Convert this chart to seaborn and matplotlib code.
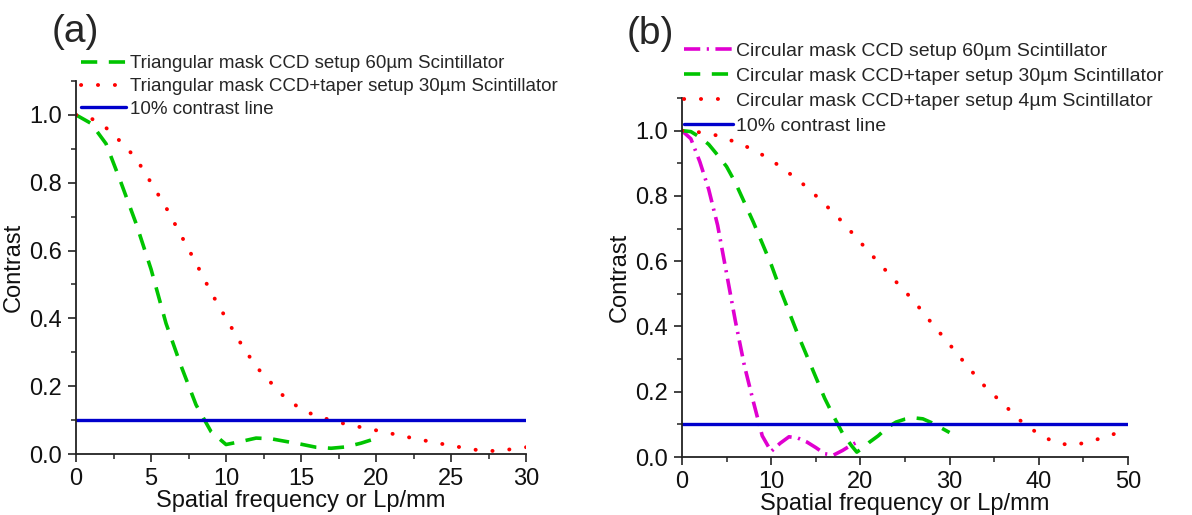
import numpy as np
import pandas as pd
import matplotlib
matplotlib.use("Agg")
import matplotlib.pyplot as plt
from matplotlib.ticker import MultipleLocator
import seaborn as sns

# ---- panel (a): triangular mask ----
tri_ccd_x = [0, 1, 2, 3, 4, 5, 6, 7, 8, 9, 10, 11, 12, 13, 14, 15, 16, 17, 18, 19, 20]
tri_ccd_y = [1.0, 0.975, 0.915, 0.80, 0.68, 0.545, 0.385, 0.26, 0.145, 0.066, 0.028,
             0.037, 0.047, 0.045, 0.037, 0.029, 0.020, 0.017, 0.021, 0.032, 0.046]
tri_taper_x = [0, 1, 2, 3, 4, 5, 6, 7, 8, 9, 10, 11, 12, 13, 14, 15, 16, 17, 18, 19, 20,
               22, 24, 26, 27, 28, 29, 30]
tri_taper_y = [1.0, 0.99, 0.962, 0.92, 0.872, 0.80, 0.727, 0.645, 0.563, 0.477, 0.40,
               0.325, 0.258, 0.21, 0.163, 0.133, 0.112, 0.10, 0.088, 0.079, 0.07,
               0.051, 0.033, 0.017, 0.010, 0.009, 0.014, 0.02]
line_a_x = [0, 30]

# ---- panel (b): circular mask ----
circ_ccd_x = [0, 1, 2, 3, 4, 5, 6, 7, 8, 9, 10, 11, 12, 13, 14, 15, 16, 17, 18, 19, 20]
circ_ccd_y = [1.0, 0.975, 0.905, 0.82, 0.71, 0.563, 0.415, 0.28, 0.17, 0.065, 0.017,
              0.042, 0.062, 0.058, 0.046, 0.029, 0.010, 0.006, 0.020, 0.037, 0.05]
circ_taper30_x = [0, 1, 2, 3, 4, 5, 6, 7, 8, 9, 10, 11, 12, 13, 14, 15, 16, 17, 18, 19,
                  19.6, 20.5, 21, 22, 23, 24, 25, 26, 27, 28, 29, 30]
circ_taper30_y = [1.0, 0.997, 0.98, 0.958, 0.925, 0.89, 0.84, 0.78, 0.72, 0.655, 0.59,
                  0.515, 0.445, 0.375, 0.31, 0.245, 0.18, 0.125, 0.073, 0.035,
                  0.015, 0.032, 0.045, 0.065, 0.09, 0.107, 0.116, 0.12, 0.117, 0.105,
                  0.09, 0.075]
circ_taper4_x = [0, 2, 4, 6, 8, 10, 12, 14, 16, 18, 20, 22, 24, 26, 28, 30, 32, 34, 36,
                 38, 40, 42, 44, 46, 48, 49]
circ_taper4_y = [1.0, 0.995, 0.985, 0.965, 0.942, 0.91, 0.87, 0.827, 0.775, 0.72, 0.658,
                 0.597, 0.537, 0.478, 0.41, 0.345, 0.278, 0.215, 0.163, 0.11, 0.07,
                 0.042, 0.036, 0.05, 0.065, 0.078]
line_b_x = [0, 50]
contrast_level = 0.1

GREEN = "#00c400"
RED = "#ff0000"
MAGENTA = "#e000d0"
BLUE = "#0000cc"

sns.set_style("ticks")
plt.rcParams["font.family"] = ["Liberation Sans", "DejaVu Sans"]

fig = plt.figure(figsize=(11.92, 5.15), dpi=100)
ax_a = fig.add_axes([0.0638, 0.1184, 0.3775, 0.7243])
ax_b = fig.add_axes([0.5721, 0.1126, 0.3742, 0.6971])


def draw(ax, xs, ys, color, style, label, lw=2.6, cap="butt"):
    df = pd.DataFrame({"x": xs, "y": ys})
    sns.lineplot(data=df, x="x", y="y", ax=ax, color=color, linewidth=lw,
                 linestyle=style, label=label, sort=False)
    ax.lines[-1].set_dash_capstyle(cap)


dashed = (0, (4.5, 3.2))
dotted = (0, (0.05, 4.3))
dashdot = (0, (4.5, 1.8, 0.6, 1.8))

draw(ax_a, tri_ccd_x, tri_ccd_y, GREEN, dashed,
     "Triangular mask CCD setup 60\u00b5m Scintillator")
draw(ax_a, tri_taper_x, tri_taper_y, RED, dotted,
     "Triangular mask CCD+taper setup 30\u00b5m Scintillator", lw=2.8, cap="round")
draw(ax_a, line_a_x, [contrast_level] * 2, BLUE, "-", "10% contrast line", lw=2.4)

draw(ax_b, circ_ccd_x, circ_ccd_y, MAGENTA, dashdot,
     "Circular mask CCD setup 60\u00b5m Scintillator")
draw(ax_b, circ_taper30_x, circ_taper30_y, GREEN, dashed,
     "Circular mask CCD+taper setup 30\u00b5m Scintillator")
draw(ax_b, circ_taper4_x, circ_taper4_y, RED, dotted,
     "Circular mask CCD+taper setup 4\u00b5m Scintillator", lw=2.8, cap="round")
draw(ax_b, line_b_x, [contrast_level] * 2, BLUE, "-", "10% contrast line", lw=2.4)

for ax, xmax, xmaj, xmin in [(ax_a, 30, 5, 2.5), (ax_b, 50, 10, 5)]:
    ax.set_xlim(0, xmax)
    ax.set_ylim(0, 1.1)
    ax.xaxis.set_major_locator(MultipleLocator(xmaj))
    ax.xaxis.set_minor_locator(MultipleLocator(xmin))
    ax.yaxis.set_minor_locator(MultipleLocator(0.1))
    ax.set_yticks([0, 0.2, 0.4, 0.6, 0.8, 1.0])
    ax.set_yticklabels(["0.0", "0.2", "0.4", "0.6", "0.8", "1.0"])
    for side in ["top", "right"]:
        ax.spines[side].set_visible(False)
    for side in ["left", "bottom"]:
        ax.spines[side].set_linewidth(1.3)
        ax.spines[side].set_color("#222222")
    ax.tick_params(which="major", direction="out", length=6, width=1.2,
                   labelsize=17, pad=4, color="#222222", labelcolor="#111111")
    ax.tick_params(which="minor", direction="out", length=3.5, width=1.1,
                   color="#222222")
    ax.set_xlabel("Spatial frequency or Lp/mm", fontsize=17, labelpad=0,
                  color="#111111")
    ax.set_ylabel("Contrast", fontsize=17, labelpad=3, color="#111111")

ax_a.legend(loc="upper left", bbox_to_anchor=(81 / 1192, 1 - 55 / 515),
            bbox_transform=fig.transFigure, frameon=False, fontsize=13.5,
            borderpad=0, borderaxespad=0, handlelength=2.4, handletextpad=0.2,
            labelspacing=0.31)
ax_b.legend(loc="upper left", bbox_to_anchor=(684 / 1192, 1 - 42 / 515),
            bbox_transform=fig.transFigure, frameon=False, fontsize=14,
            borderpad=0, borderaxespad=0, handlelength=2.5, handletextpad=0.2,
            labelspacing=0.38)

fig.text(52 / 1192, 1 - 14 / 515, "(a)", fontsize=28, va="top", ha="left")
fig.text(627 / 1192, 1 - 16 / 515, "(b)", fontsize=28, va="top", ha="left")

fig.savefig("out.png", dpi=100)
